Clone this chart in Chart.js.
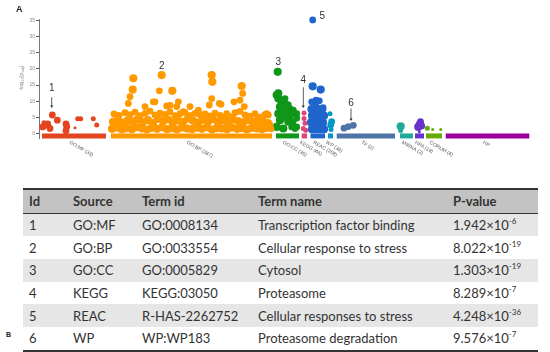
<!DOCTYPE html>
<html>
<head>
<meta charset="utf-8">
<script src="https://cdn.jsdelivr.net/npm/chart.js@4"></script>
<style>
  body { margin:0; background:#fff; width:550px; height:352px; position:relative; overflow:hidden; }
  #wrap { position:absolute; left:0; top:0; width:550px; height:180px; }
  .tag { position:absolute; font-family:"Liberation Sans", Arial, sans-serif; font-weight:bold; color:#222; }
  table { position:absolute; left:23px; top:188px; width:515px; border-collapse:collapse;
          font-family:Lato, "Open Sans", sans-serif; font-size:13px; color:#333; }
  th, td { text-align:left; padding:0 0 0 6px; height:22.7px; line-height:22px; white-space:nowrap; }
  th { background:#c3c3c3; font-weight:bold; border-top:2px solid #333; border-bottom:1.5px solid #333; }
  tr:nth-child(even) td { background:#e6e6e6; }
  tr:last-child td { border-bottom:2px solid #333; }
  sup { font-size:8px; vertical-align:6px; line-height:0; }
</style>
</head>
<body>
<div id="wrap"><canvas id="manhattan" width="550" height="180"></canvas></div>
<div class="tag" style="left:16px;top:4px;font-size:9px;">A</div>
<div class="tag" style="left:6px;top:331px;font-size:7px;">B</div>
<table id="tbl"></table>
<script>
// --- sources (x-range of each strip along the axis) ---
const sources   = ['GO:MF (33)','GO:BP (387)','GO:CC (35)','KEGG (46)','REAC (208)','WP (36)','TF (2)','MIRNA (2)','HPA (18)','CORUM (4)','HP'];
const srcStart  = [3, 72, 237, 262.7, 271.5, 289, 297.7, 361, 376, 387, 406.7];
const srcEnd    = [67, 233, 260, 268, 286, 294, 356, 374, 385, 403, 490.3];
const srcColors = ['#e2451f','#ff9900','#109618','#dd4477','#1f66cc','#0099c6','#4f74a8','#22aa99','#6633cc','#66aa00','#990099'];

// --- terms: [position, -log10(padj), term size class] ---
const goMF = [[3.7,2.0,3],[7.7,2.6,3],[11,1.5,3],[8.7,2.9,3],[18.3,4.1,3],[27,2.9,3],[27.7,2.1,3],[27,0.8,3],
  [36,1.7,1],[38.7,4.5,2],[41.7,4.5,2],[54.3,4.5,2],[57.7,2.6,2],[5,3.3,2],[13.3,5.7,3]];
const goBP = [
  [73,1.4,4],[78,1.8,4],[83,1.2,4],[88,1.6,4],[93,1.3,4],[98,1.9,4],[103,1.5,4],[108,1.2,4],[113,1.7,4],[118,1.4,4],
  [123,1.9,4],[128,1.3,4],[133,1.6,4],[138,1.2,4],[143,1.8,4],[148,1.5,4],[153,1.3,4],[158,1.7,4],[163,1.4,4],[168,1.9,4],
  [173,1.2,4],[178,1.6,4],[183,1.5,4],[188,1.3,4],[193,1.8,4],[198,1.4,4],[203,1.6,4],[208,1.2,4],[213,1.7,4],[218,1.5,4],
  [223,1.3,4],[228,1.8,4],[232,1.4,3],
  [74,3.6,4],[79,4.2,4],[84,3.3,4],[89,4.0,4],[94,3.7,4],[99,4.4,4],[104,3.5,4],[109,4.1,4],[114,3.2,4],[119,4.5,4],
  [124,3.8,4],[129,4.3,4],[134,3.4,4],[139,4.0,4],[144,3.6,4],[149,4.6,4],[154,3.9,4],[159,3.3,4],[164,4.2,4],[169,3.7,4],
  [174,4.4,4],[179,3.5,4],[184,4.0,4],[189,3.3,4],[194,4.3,4],[199,3.8,4],[204,3.4,4],[209,4.1,4],[214,3.6,4],[219,4.2,4],
  [224,3.5,4],[229,3.2,4],
  [75,6.0,3],[80,5.6,3],[86,6.4,3],[91,5.8,3],[96,6.6,3],[101,5.5,3],[106,6.2,3],[111,6.9,3],[116,5.7,3],[121,6.3,3],
  [126,5.9,3],[131,6.7,3],[136,5.5,3],[141,6.1,3],[146,6.5,3],[151,5.6,3],[156,6.2,3],[161,5.8,3],[166,6.0,3],[171,5.4,3],
  [176,6.3,3],[181,5.6,3],[186,4.9,3],[191,5.2,3],[196,6.4,3],[201,6.8,3],[206,5.7,3],[211,5.3,3],[216,6.1,3],[221,5.0,3],[226,5.8,3],
  [94.3,17.1,4],[93.7,13.6,4],[91,11.4,3],[89.3,9.3,3],[120.3,13.2,3],[133.3,13.2,4],[116,9.8,3],[106,8.3,3],[127.7,8.5,3],
  [137.7,8.3,3],[172.7,18.1,4],[173.3,16.0,4],[172.7,10.8,3],[182,9.0,3],[170.3,8.8,3],[202.7,14.7,4],[203.7,12.4,3],[201,10.3,3],
  [195,9.8,3],[205.3,8.3,3],[151,8.3,3],[159.3,7.2,3],[144.3,6.7,3],[229.3,5.7,3],[224.3,5.2,3],[219.3,3.6,3],[231,2.6,3],
  [131,8.7,3],[114.3,9.8,3],[187.7,6.1,3],[139.3,9.8,3],[180.3,9.3,3],[227.7,6.1,3],[226,1.5,3],[122.7,18.1,4]];
const goCC = [[237.7,11.9,4],[239.3,10.8,4],[242.7,9.8,4],[247.7,8.8,4],[251,7.7,3],[254.3,7.2,3],[257.7,6.1,3],[257.7,4.7,3],
  [257.7,2.0,3],[239.3,6.1,4],[241,4.1,4],[237.7,2.0,4],[246,5.2,4],[249.3,3.6,4],[244.3,1.5,4],[252.7,2.0,3],[239.3,12.4,4],
  [246,10.8,3],[249.3,8.8,3],[252.7,6.1,3],[256,1.5,3],[243,7.5,4],[248,6.5,3],[251,4.8,3],[254,3.5,3],[241,8.2,4],[238.7,19.1,4]];
const kegg = [[265,4.6,2],[266,3.1,2],[264.3,1.5,2],[266.7,1.0,2],[265,6.3,2]];
const reac = [[273,1.3,4],[277,1.3,4],[281,1.3,4],[285,1.3,4],[272,3.4,4],[276,3.4,4],[280,3.4,4],[284,3.4,4],
  [273,5.5,4],[277,5.5,4],[281,5.5,4],[285,5.5,4],[272.5,7.5,4],[276.5,7.5,4],[280.5,7.5,4],[284,7.5,3],
  [272.7,9.8,3],[280.3,10.1,3],[277,10.3,3],[276.5,9.0,3],[284,8.0,3],[273.7,14.6,4],[281.7,13.6,4],[273.7,35.2,3]];
const wp    = [[291,6.1,2],[292.7,3.6,3],[291.7,2.6,3],[292,1.2,2]];
const tf    = [[305,1.6,3],[309.3,2.1,3],[314.3,2.5,3]];
const mirna = [[361.7,0.9,2],[361.7,2.2,4]];
const hpa   = [[380.3,0.5,1],[379.3,2.0,4],[382.7,2.3,3],[381.5,3.6,3],[381,2.9,4]];
const corum = [[388.3,1.6,2],[393.7,1.2,1],[401.7,1.2,1]];
const hp    = [];
const terms = [goMF, goBP, goCC, kegg, reac, wp, tf, mirna, hpa, corum, hp];

// --- highlighted terms: label, label position, arrow from/to (y) ---
const markLabels = ['1','2','3','4','5','6'];
const markX      = [12.7, 122.7, 239.3, 264.3, 283.3, 312];
const markY      = [13.9, 20.9, 22.1, 16.4, 36.2, 9.3];
const arrowFrom  = [11.2, null, null, 14.3, null, 7.7];
const arrowTo    = [7.9, null, null, 7.9, null, 3.8];

// --- table ---
const tblHead   = ['Id','Source','Term id','Term name','P-value'];
const tblSource = ['GO:MF','GO:BP','GO:CC','KEGG','REAC','WP'];
const tblTermId = ['GO:0008134','GO:0033554','GO:0005829','KEGG:03050','R-HAS-2262752','WP:WP183'];
const tblName   = ['Transcription factor binding','Cellular response to stress','Cytosol','Proteasome','Cellular responses to  stress','Proteasome degradation'];
const tblMant   = ['1.942','8.022','1.303','8.289','4.248','9.576'];
const tblExp    = ['-6','-19','-19','-7','-36','-7'];

const radius = s => [0, 1.5, 2.5, 3.4, 4.1][s];

const datasets = [];
terms.forEach((t, i) => {
  datasets.push({
    type: 'scatter', order: 0,
    data: t.map(p => ({x: p[0], y: p[1]})),
    pointRadius: t.map(p => radius(p[2])),
    backgroundColor: srcColors[i], borderWidth: 0
  });
});
sources.forEach((s, i) => {
  datasets.push({
    type: 'line', order: 1,
    data: [{x: srcStart[i], y: -0.8}, {x: srcEnd[i], y: -0.8}],
    borderColor: srcColors[i], borderWidth: 5, borderCapStyle: 'butt', pointRadius: 0
  });
});

const extras = {
  id: 'extras',
  afterDatasetsDraw(chart) {
    const c = chart.ctx, xs = chart.scales.x, ys = chart.scales.y;
    c.save();
    // source names under strips
    c.font = '5px "Liberation Sans", Arial, sans-serif';
    c.fillStyle = '#555';
    c.textAlign = 'left'; c.textBaseline = 'top';
    sources.forEach((s, i) => {
      const cx = xs.getPixelForValue((srcStart[i] + srcEnd[i]) / 2) - 3;
      c.save(); c.translate(cx, 140); c.rotate(Math.PI / 6); c.fillText(s, 0, 0); c.restore();
    });
    // highlighted term numbers and arrows
    c.font = '10px "Liberation Sans", Arial, sans-serif';
    c.fillStyle = '#333'; c.textAlign = 'center'; c.textBaseline = 'middle';
    markLabels.forEach((m, i) => {
      const px = xs.getPixelForValue(markX[i]);
      c.fillText(m, px, ys.getPixelForValue(markY[i]));
      if (arrowFrom[i] !== null) {
        const y0 = ys.getPixelForValue(arrowFrom[i]), y1 = ys.getPixelForValue(arrowTo[i]);
        c.strokeStyle = '#333'; c.lineWidth = 0.8;
        c.beginPath(); c.moveTo(px, y0); c.lineTo(px, y1 - 2); c.stroke();
        c.beginPath(); c.moveTo(px - 1.6, y1 - 2.5); c.lineTo(px + 1.6, y1 - 2.5); c.lineTo(px, y1); c.closePath(); c.fill();
      }
    });
    // y-axis title with subscripts
    c.translate(21, (ys.top + ys.getPixelForValue(0)) / 2 + 2);
    c.rotate(-Math.PI / 2);
    c.fillStyle = '#888'; c.textAlign = 'left'; c.textBaseline = 'middle';
    const parts = [['-log', 5.5, 0], ['10', 4, 1.5], ['(p', 5.5, 0], ['adj', 4, 1.5], [')', 5.5, 0]];
    let w = 0;
    parts.forEach(p => { c.font = p[1] + 'px "Liberation Sans", Arial, sans-serif'; w += c.measureText(p[0]).width; });
    let x = -w / 2;
    parts.forEach(p => {
      c.font = p[1] + 'px "Liberation Sans", Arial, sans-serif';
      c.fillText(p[0], x, p[2]); x += c.measureText(p[0]).width;
    });
    c.restore();
  }
};

new Chart(document.getElementById('manhattan'), {
  data: { datasets },
  options: {
    responsive: false, animation: false,
    layout: { padding: { left: 0, top: 19, right: 19, bottom: 41.5 } },
    plugins: { legend: { display: false }, tooltip: { enabled: false } },
    elements: { point: { hoverRadius: 0 } },
    clip: false,
    scales: {
      x: { type: 'linear', min: 0, max: 492, display: false },
      y: {
        min: -1.6, max: 35.5,
        afterBuildTicks: a => { a.ticks = [0,5,10,15,20,25,30,35].map(v => ({value: v})); },
        afterFit: a => { a.width = 39; },
        grid: { drawOnChartArea: false, tickLength: 3, color: '#555', tickColor: '#555' },
        border: { color: '#555', width: 0.8 },
        ticks: { font: { size: 5, family: '"Liberation Sans", Arial, sans-serif' }, color: '#888', padding: 1 }
      }
    }
  },
  plugins: [extras]
});

// table build
const tbl = document.getElementById('tbl');
const colW = [44, 69, 116, 195, 91];
let html = '<tr>' + tblHead.map((h, i) => `<th style="width:${colW[i] - 6}px">${h}</th>`).join('') + '</tr>';
tblSource.forEach((s, i) => {
  html += `<tr><td>${i + 1}</td><td>${s}</td><td>${tblTermId[i]}</td><td>${tblName[i]}</td>` +
          `<td>${tblMant[i]}×10<sup>${tblExp[i]}</sup></td></tr>`;
});
tbl.innerHTML = html;
</script>
</body>
</html>
